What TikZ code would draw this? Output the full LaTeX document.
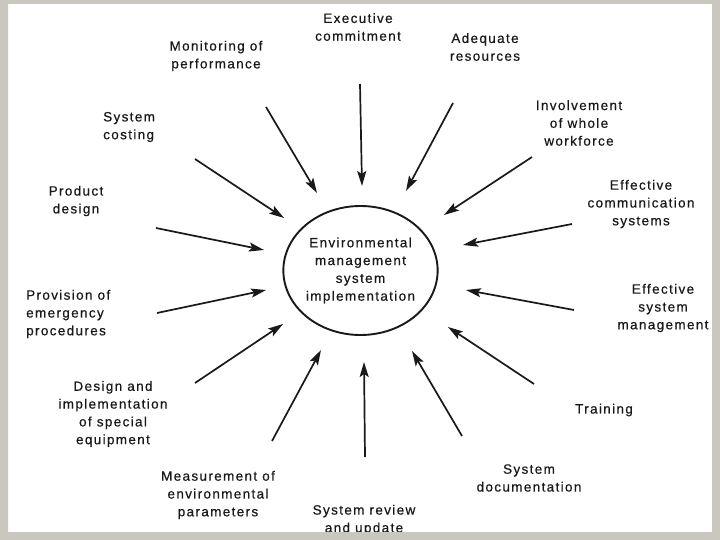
\documentclass[tikz,border=0pt]{standalone}
\usepackage{fontspec}
\setmainfont{Liberation Sans}[LetterSpace=10,FakeBold=0.5]
\usetikzlibrary{arrows.meta,shapes.geometric}
\definecolor{framegrey}{RGB}{201,199,190}
\definecolor{ink}{RGB}{25,25,25}
\begin{document}
\begin{tikzpicture}[x=1pt,y=-1pt,
  lbl/.style={font=\fontsize{13.5}{17.8}\selectfont, align=center, text=ink, inner sep=0pt},
  lbll/.style={lbl, align=left, anchor=west},
  arr/.style={draw=ink, line width=1.7pt, -{Stealth[length=15pt,width=9pt,inset=3pt]}}]
\useasboundingbox (0,0) rectangle (720,540);
\fill[framegrey] (0,0) rectangle (720,540);
\fill[white] (8,4) rectangle (712,532);

% centre
\node[ellipse, draw=ink, line width=1.9pt, minimum width=149pt, minimum height=129pt, lbl] (c) at (360.5,270.5)
  {Environmental\\management\\system\\implementation};

% labels
\node[lbl] (exec) at (358,27) {Executive\\commitment};
\node[lbl] (adeq) at (485,47) {Adequate\\resources};
\node[lbl] (invo) at (579,123) {Involvement\\of whole\\workforce};
\node[lbl] (comm) at (641,204) {Effective\\communication\\systems};
\node[lbl] (mgmt) at (663,308) {Effective\\system\\management};
\node[lbl] (train) at (604,410) {Training};
\node[lbl] (docu) at (529,478) {System\\documentation};
\node[lbl] (revi) at (364,520) {System review\\and update};
\node[lbl] (meas) at (218,495) {Measurement of\\environmental\\parameters};
\node[lbl] (desi) at (113,414) {Design and\\implementation\\of special\\equipment};
\node[lbll] (prov) at (26,314) {Provision of\\emergency\\procedures};
\node[lbl] (prod) at (76,201) {Product\\design};
\node[lbll] (cost) at (103,127) {System\\costing};
\node[lbl] (moni) at (216,56) {Monitoring of\\performance};

% connector ends
\coordinate (s1) at (360,84);   \coordinate (t1) at (362,186);
\coordinate (s2) at (453,103);  \coordinate (t2) at (406,191);
\coordinate (s3) at (532,157);  \coordinate (t3) at (444,215);
\coordinate (s4) at (572,224);  \coordinate (t4) at (463,245);
\coordinate (s5) at (574,310);  \coordinate (t5) at (466,290);
\coordinate (s6) at (534,384);  \coordinate (t6) at (448,327);
\coordinate (s7) at (462,436);  \coordinate (t7) at (412,351);
\coordinate (s8) at (365,457);  \coordinate (t8) at (364,362);
\coordinate (s9) at (272,441);  \coordinate (t9) at (321,350);
\coordinate (s10) at (195,383); \coordinate (t10) at (283,324);
\coordinate (s11) at (157,313); \coordinate (t11) at (266,290);
\coordinate (s12) at (156,228); \coordinate (t12) at (264,250);
\coordinate (s13) at (195,159); \coordinate (t13) at (284,218);
\coordinate (s14) at (266,107); \coordinate (t14) at (317,193);

\foreach \i in {1,...,14} { \draw[arr] (s\i) -- (t\i); }

% frame on top (clips the bottom label)
\fill[framegrey, even odd rule] (0,0) rectangle (720,540) (8,4) rectangle (712,532);
\end{tikzpicture}
\end{document}
